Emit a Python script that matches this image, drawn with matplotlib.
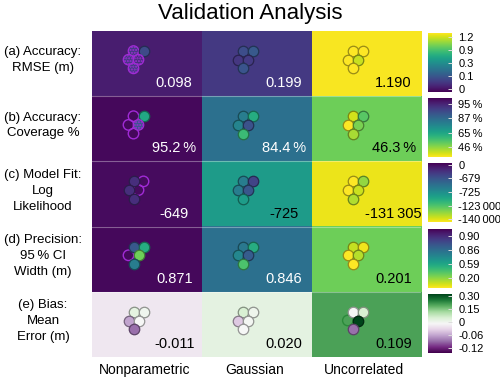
#!/usr/bin/env python3
"""Validation analysis heatmap: metric per method, with per-site dots."""

import numpy as np
import matplotlib
matplotlib.use('Agg')
import matplotlib.pyplot as plt
from matplotlib import colors as mcolors

plt.rcParams['font.family'] = ['Liberation Sans', 'DejaVu Sans']

nan = np.nan

methods = ['Nonparametric', 'Gaussian', 'Uncorrelated']
row_labels = ['(a) Accuracy:\nRMSE (m)',
              '(b) Accuracy:\nCoverage %',
              '(c) Model Fit:\nLog\nLikelihood',
              '(d) Precision:\n95\u2009% CI\nWidth (m)',
              '(e) Bias:\nMean\nError (m)']

# summary values (one per method)
rmse = [0.098, 0.199, 1.190]
coverage = [95.2, 84.4, 46.3]
loglik = [-649, -725, -131305]
ci_width = [0.871, 0.846, 0.201]
bias = [-0.011, 0.020, 0.109]

# per-site values, order: top-left, top-right, mid-left, mid-right, bottom
# nan = site without a value (drawn as an empty ring)
rmse_sites = [[0.20, 0.27, 0.20, 0.16, 0.21],
              [0.28, 0.33, 0.19, 0.21, 0.31],
              [1.20, 1.20, 1.20, 1.10, 1.20]]
coverage_sites = [[nan, 63.0, nan, 87.5, nan],
                  [79.8, 61.2, 77.0, 88.1, 55.6],
                  [25.0, 50.0, 15.0, 43.5, 33.5]]
loglik_sites = [[-664, nan, -664, nan, -664],
                [-706, -674, -706, -684, -725],
                [-140000, -90400, -140000, -115200, -102800]]
ci_sites = [[0.853, 0.453, nan, 0.201, 0.767],
            [0.800, 0.450, 0.700, 0.852, 0.300],
            [0.080, 0.020, 0.000, 0.100, 0.000]]
bias_sites = [[0.020, 0.008, -0.048, 0.000, -0.072],
              [0.034, 0.010, -0.030, 0.005, 0.000],
              [0.000, 0.034, nan, 0.170, -0.072]]

# sites flagged with the dotted texture (row, method, site)
hatched = [(0, 0, 0), (0, 0, 2), (0, 0, 3), (0, 0, 4), (1, 0, 3)]

# colorbar tick labels, top to bottom
cbar_labels = [['1.2', '0.9', '0.3', '0.1', '0'],
               ['95\u2009%', '87\u2009%', '65\u2009%', '46\u2009%'],
               ['0', '-679', '-725', '-123\u2009000', '-140\u2009000'],
               ['0.90', '0.86', '0.59', '0.20'],
               ['0.30', '0.15', '0', '-0.06', '-0.12']]


def fmt_int(v):
    return f"{v:,.0f}".replace(",", "\u2009")


# row spec: values, sites, cmap, colour stretch (breaks -> cmap position), label format
rows = [
    (rmse, rmse_sites, 'viridis', [0, 1.2], [0, 1], lambda v: f"{v:.3f}"),
    (coverage, coverage_sites, 'viridis', [15, 46.3, 84.4, 95.2, 100],
     [1.0, 0.78, 0.37, 0.02, 0.0], lambda v: f"{v:.1f}\u2009%"),
    (loglik, loglik_sites, 'viridis', [-140000, -725, -649, 0],
     [1.0, 0.55, 0.03, 0.0], fmt_int),
    (ci_width, ci_sites, 'viridis', [0.0, 0.201, 0.846, 0.871, 1.0],
     [1.0, 0.78, 0.37, 0.02, 0.0], lambda v: f"{v:.3f}"),
    (bias, bias_sites, 'PRGn', [-0.12, 0.0, 0.17], [0.0, 0.5, 1.0],
     lambda v: f"{v:.3f}"),
]
# colorbar: cmap direction and tick span (fraction from bottom)
cbar_spec = [('viridis', 0.05, 0.94), ('viridis_r', 0.17, 0.91),
             ('viridis_r', 0.05, 0.98), ('viridis_r', 0.16, 0.87),
             ('PRGn', 0.08, 0.96)]
ring_colors = ['#a12bd6', '#a12bd6', '#a12bd6', '#a12bd6', '#2a8a3a']


def luminance(rgb):
    lin = [c / 12.92 if c <= 0.04045 else ((c + 0.055) / 1.055) ** 2.4 for c in rgb[:3]]
    return 0.2126 * lin[0] + 0.7152 * lin[1] + 0.0722 * lin[2]


W, H = 500, 382
fig = plt.figure(figsize=(W / 100, H / 100), dpi=100)
ax_l, ax_r, ax_t, ax_b = 92, 421, 31, 357   # pixels
ax = fig.add_axes([ax_l / W, 1 - ax_b / H, (ax_r - ax_l) / W, (ax_b - ax_t) / H])
n_rows, n_cols = len(rows), len(methods)
cell_w = (ax_r - ax_l) / n_cols
cell_h = (ax_b - ax_t) / n_rows

# background cells
rgba = np.zeros((n_rows, n_cols, 4))
for i, (vals, sites, cmap, brk, stp, fmt) in enumerate(rows):
    cm = plt.get_cmap(cmap)
    rgba[i] = cm(np.interp(vals, brk, stp))
ax.imshow(rgba, extent=(0, n_cols, n_rows, 0), aspect='auto', interpolation='nearest')
for i in range(1, n_rows):
    ax.axhline(i, color='white', lw=0.8, alpha=0.35)

# site dots in a small hex cluster (pixel offsets inside the cell)
dx = np.array([41.5, 51.5, 36.5, 46.5, 41.5]) / cell_w
dy = np.array([20.0, 20.0, 28.7, 28.7, 37.4]) / cell_h
dot_s = 57

for i, (vals, sites, cmap, brk, stp, fmt) in enumerate(rows):
    cm = plt.get_cmap(cmap)
    for j in range(n_cols):
        sv = np.array(sites[j], dtype=float)
        xs, ys = j + dx, i + dy
        empty = np.isnan(sv)
        if empty.any():
            ax.scatter(xs[empty], ys[empty], s=dot_s, facecolors='none',
                       edgecolors=ring_colors[i], linewidths=1.0, zorder=3)
        for k in np.where(~empty)[0]:
            fc = np.array(cm(np.interp(sv[k], brk, stp)))
            ec = fc.copy()
            ec[:3] *= 0.6
            kw = {}
            if (i, j, k) in hatched:
                ec = mcolors.to_rgba(ring_colors[i])
                plt.rcParams['hatch.color'] = '#2a0d40'
                kw['hatch'] = '......'
            ax.scatter(xs[k], ys[k], s=dot_s, facecolors=[fc], edgecolors=[ec],
                       linewidths=0.9, zorder=4, **kw)

        # value label
        bg = rgba[i, j]
        tc = 'black' if luminance(bg) > 0.18 else 'white'
        ax.text(j + 0.75, i + 0.80, fmt(vals[j]), ha='center', va='center',
                fontsize=10.5, color=tc, zorder=5)

ax.set_xlim(0, n_cols)
ax.set_ylim(n_rows, 0)
ax.set_xticks([])
ax.set_yticks([])
for sp in ax.spines.values():
    sp.set_visible(False)

# row labels: one centred text per line
line_gap = 15.8   # px
for i, lab in enumerate(row_labels):
    lines = lab.split('\n')
    yc = ax_t + (i + 0.45) * cell_h
    for n, line in enumerate(lines):
        y = yc + (n - (len(lines) - 1) / 2) * line_gap
        fig.text(43 / W, 1 - y / H, line, ha='center', va='center', fontsize=9.5)

for j, m in enumerate(methods):
    ax.text(j + 0.48, n_rows + 13 / cell_h, m, ha='center', va='center', fontsize=10)

fig.text(0.5, 1 - 14 / H, 'Validation Analysis', ha='center', va='center', fontsize=16)

# colorbars
grad = np.linspace(0, 1, 256).reshape(-1, 1)
for i, (cmap, lo, hi) in enumerate(cbar_spec):
    top = ax_t + i * cell_h + 2
    h = 59
    cax = fig.add_axes([428 / W, 1 - (top + h) / H, 24 / W, h / H])
    cax.imshow(grad, extent=(0, 1, 0, 1), origin='lower', aspect='auto', cmap=cmap)
    labels = cbar_labels[i]
    pos = np.linspace(hi, lo, len(labels))
    cax.set_xticks([])
    cax.yaxis.tick_right()
    cax.set_yticks(pos)
    cax.set_yticklabels(labels, fontsize=8)
    cax.tick_params(axis='y', direction='in', length=3, width=0.7,
                    color='#dddddd', pad=4.5)
    for sp in cax.spines.values():
        sp.set_visible(False)

fig.savefig('out.png', dpi=100)
